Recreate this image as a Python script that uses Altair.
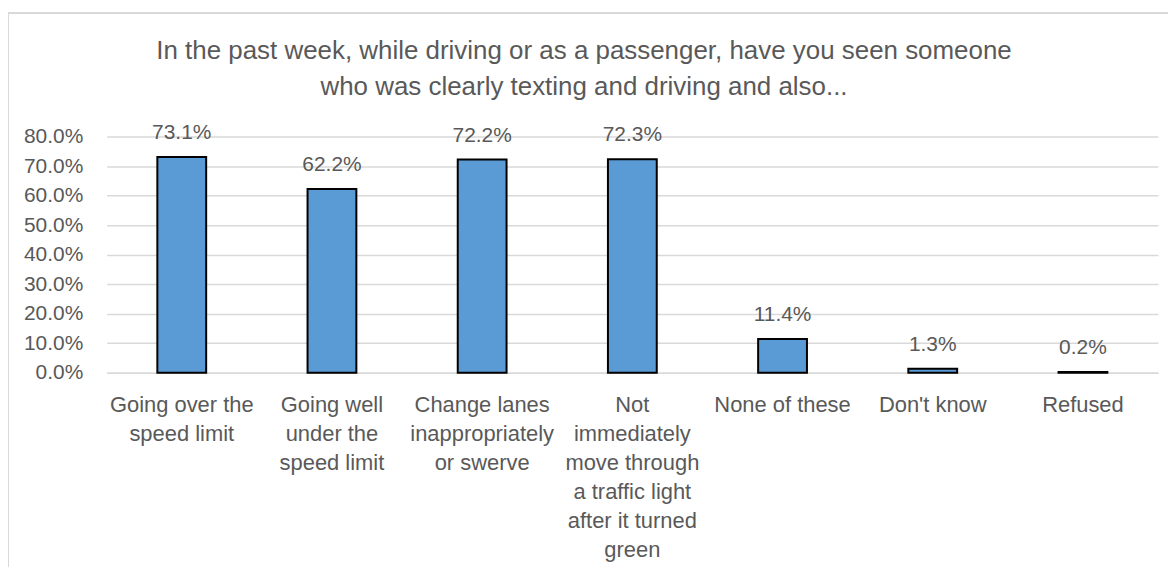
import altair as alt
import pandas as pd

categories = [
    "Going over the\nspeed limit",
    "Going well\nunder the\nspeed limit",
    "Change lanes\ninappropriately\nor swerve",
    "Not\nimmediately\nmove through\na traffic light\nafter it turned\ngreen",
    "None of these",
    "Don't know",
    "Refused",
]
values = [0.731, 0.622, 0.722, 0.723, 0.114, 0.013, 0.002]
y_ticks = [0.0, 0.1, 0.2, 0.3, 0.4, 0.5, 0.6, 0.7, 0.8]
title_lines = [
    "In the past week, while driving or as a passenger, have you seen someone",
    "who was clearly texting and driving and also...",
]

df = pd.DataFrame({"category": categories, "value": values})
title_df = pd.DataFrame({"line": title_lines, "row": [0, 1]})

FONT = "Liberation Sans"
TEXT = "#595959"
GRID = "#D9D9D9"

x = alt.X(
    "category:N",
    sort=categories,
    title=None,
    scale=alt.Scale(paddingInner=0.675, paddingOuter=0.3375),
    axis=alt.Axis(
        labelAngle=0,
        labelExpr="split(datum.label, '\\n')",
        labelFont=FONT,
        labelFontSize=22,
        labelColor=TEXT,
        labelLineHeight=29,
        labelPadding=22,
        labelBaseline="top",
        ticks=False,
        domainColor=GRID,
        domainWidth=1.5,
        labelLimit=300,
    ),
)
y = alt.Y(
    "value:Q",
    title=None,
    scale=alt.Scale(domain=[0, 0.8], nice=False),
    axis=alt.Axis(
        values=y_ticks,
        format=".1%",
        labelFont=FONT,
        labelFontSize=21,
        labelColor=TEXT,
        labelPadding=24,
        ticks=False,
        domain=False,
        gridColor=GRID,
        gridWidth=1.5,
    ),
)

bars = alt.Chart(df).mark_bar(
    color="#5B9BD5", stroke="#000000", strokeWidth=2
).encode(x=x, y=y)

labels = alt.Chart(df).mark_text(
    font=FONT, fontSize=21, color=TEXT, baseline="bottom", dy=-14
).encode(x=x, y=y, text=alt.Text("value:Q", format=".1%"))

title_0 = alt.Chart(title_df).transform_filter("datum.row == 0").mark_text(
    font=FONT, fontSize=26, color=TEXT, align="center", baseline="middle"
).encode(x=alt.value(479), y=alt.value(-86), text="line:N")
title_1 = alt.Chart(title_df).transform_filter("datum.row == 1").mark_text(
    font=FONT, fontSize=26, color=TEXT, align="center", baseline="middle"
).encode(x=alt.value(479), y=alt.value(-50), text="line:N")

border_left = alt.Chart(df).mark_rule(color=GRID, strokeWidth=2).encode(
    x=alt.value(-99), y=alt.value(-124), y2=alt.value(460)
)
border_top = alt.Chart(df).mark_rule(color=GRID, strokeWidth=2).encode(
    x=alt.value(-99), x2=alt.value(1080), y=alt.value(-124)
)

chart = (
    alt.layer(bars, labels, title_0, title_1, border_left, border_top)
    .properties(
        width=1055,
        height=237,
        autosize=alt.AutoSizeParams(type="none"),
        padding={"left": 99, "top": 128, "right": 10, "bottom": 194},
    )
    .configure_view(stroke=None)
)

chart.save("out.html", embed_options={"renderer": "svg", "actions": False})
